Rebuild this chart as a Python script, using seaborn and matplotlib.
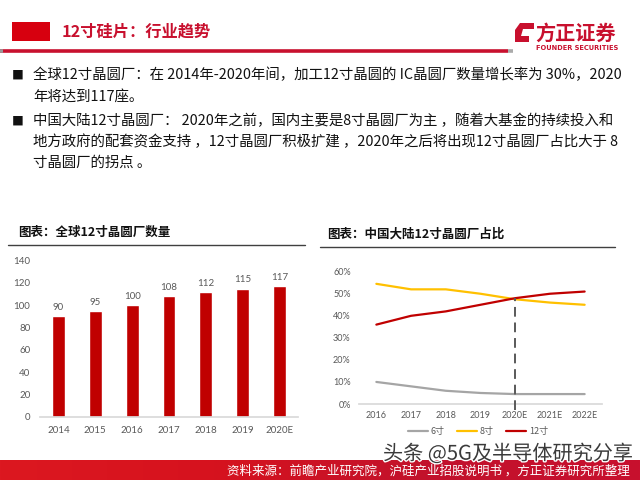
import numpy as np
import pandas as pd
import matplotlib
matplotlib.use("Agg")
import matplotlib.pyplot as plt
import seaborn as sns
from matplotlib.patches import Rectangle, Polygon
from matplotlib.lines import Line2D
from matplotlib.colors import LinearSegmentedColormap
import matplotlib.patheffects as pe

# ---------------- data ----------------
bar_years = ["2014", "2015", "2016", "2017", "2018", "2019", "2020E"]
fab_counts = [90, 95, 100, 108, 112, 115, 117]
bar_yticks = [0, 20, 40, 60, 80, 100, 120, 140]

line_years = ["2016", "2017", "2018", "2019", "2020E", "2021E", "2022E"]
share_6 = [0.10, 0.08, 0.06, 0.05, 0.045, 0.045, 0.045]
share_8 = [0.545, 0.52, 0.52, 0.50, 0.475, 0.46, 0.45]
share_12 = [0.36, 0.40, 0.42, 0.45, 0.48, 0.50, 0.51]
series_names = ["6寸", "8寸", "12寸"]
line_yticks = [0.0, 0.1, 0.2, 0.3, 0.4, 0.5, 0.6]
line_ytick_labels = ["0%", "10%", "20%", "30%", "40%", "50%", "60%"]
crossover_year = "2020E"

header_title = "12寸硅片：行业趋势"
bullet_lines = [
    "全球12寸晶圆厂：在 2014年-2020年间，加工12寸晶圆的 IC晶圆厂数量增长率为 30%，2020",
    "年将达到117座。",
    "中国大陆12寸晶圆厂： 2020年之前，国内主要是8寸晶圆厂为主 ，随着大基金的持续投入和",
    "地方政府的配套资金支持 ，12寸晶圆厂积极扩建 ，2020年之后将出现12寸晶圆厂占比大于 8",
    "寸晶圆厂的拐点 。",
]
bullet_starts = [True, False, True, False, False]
chart1_title = "图表：全球12寸晶圆厂数量"
chart2_title = "图表：中国大陆12寸晶圆厂占比"
source_text = "资料来源：前瞻产业研究院，沪硅产业招股说明书 ，方正证券研究所整理"
watermark = "头条 @5G及半导体研究分享"
logo_cn = "方正证券"
logo_en = "FOUNDER SECURITIES"

# ---------------- style ----------------
sns.set_theme(style="white")
plt.rcParams["font.family"] = ["Noto Sans CJK SC", "DejaVu Sans"]

RED = "#C00000"
TICK = "#595959"
W, H = 640, 480

fig = plt.figure(figsize=(6.4, 4.8), dpi=100)
fig.patch.set_facecolor("white")

def frac(x0, y0, x1, y1):
    return [x0 / W, 1 - y1 / H, (x1 - x0) / W, (y1 - y0) / H]

# decoration layer in pixel coordinates
deco = fig.add_axes([0, 0, 1, 1], zorder=0)
deco.set_xlim(0, W)
deco.set_ylim(H, 0)
deco.axis("off")

# header
deco.add_patch(Rectangle((12, 22), 38, 19, color="#D7000F", lw=0))
deco.text(62, 32, header_title, color="#C8102E", fontsize=11.7, weight="bold",
          va="center", ha="left")
deco.plot([0, 508], [51, 51], color="#C8102E", lw=2.6, solid_capstyle="butt")
deco.plot([0, 3], [51, 51], color="#999999", lw=2.6, solid_capstyle="butt")
deco.plot([508, 513], [51, 51], color="#AAAAAA", lw=2.6, solid_capstyle="butt")

# logo
deco.add_patch(Polygon([(520, 23), (534, 23), (534, 29), (523, 29), (521, 36),
                        (529, 36), (529, 42), (515, 42), (515, 30)],
                       closed=True, color="#C8102E", lw=0))
deco.text(535, 33, logo_cn, color="#C8102E", fontsize=14.5, weight="bold",
          va="center", ha="left")
deco.text(536, 48.5, logo_en, color="#C8102E", fontsize=4.8, weight="bold",
          va="center", ha="left", family=["DejaVu Sans"])

# bullets
bullet_y = [75, 97, 121, 142, 163]
for txt, yy, start in zip(bullet_lines, bullet_y, bullet_starts):
    if start:
        deco.text(18, yy, "■", fontsize=8.5, color="#111111", va="center", ha="center")
    deco.text(33, yy, txt, fontsize=10.4, color="#111111", va="center", ha="left")

# chart titles + rules
deco.text(18, 232, chart1_title, fontsize=9, weight="bold", color="#111111",
          va="center", ha="left")
deco.plot([8, 305], [245, 245], color="#404040", lw=1)
deco.text(327, 234, chart2_title, fontsize=9, weight="bold", color="#111111",
          va="center", ha="left")
deco.plot([320, 615], [247, 247], color="#404040", lw=1)

# footer gradient band
cmap = LinearSegmentedColormap.from_list(
    "band", ["#DC1820", "#D6121E", "#C2122C", "#C8102E"])
grad = np.linspace(0, 1, 256).reshape(1, -1)
deco.imshow(grad, extent=[0, W, 480, 460], aspect="auto", cmap=cmap, zorder=1)
deco.set_xlim(0, W)
deco.set_ylim(H, 0)
deco.text(630, 471, source_text, fontsize=9, color="white", va="center",
          ha="right", zorder=3)
deco.text(383, 454, watermark, fontsize=14.5, color="#3A3A3A", va="center",
          ha="left", zorder=4,
          path_effects=[pe.withStroke(linewidth=2, foreground="white")])

# ---------------- bar chart ----------------
ax1 = fig.add_axes(frac(40, 260.7, 298, 416.7), zorder=2)
ax1.patch.set_alpha(0)
bar_df = pd.DataFrame({"year": bar_years, "count": fab_counts})
sns.barplot(data=bar_df, x="year", y="count", color=RED, width=0.35,
            saturation=1, ax=ax1)
ax1.bar_label(ax1.containers[0], fontsize=7, color=TICK, padding=3,
              family=["Lato", "DejaVu Sans"])
ax1.set_xlim(-0.5, len(bar_years) - 0.5)
ax1.set_ylim(0, 140)
ax1.set_yticks(bar_yticks)
ax1.set_xlabel("")
ax1.set_ylabel("")
for s in ["top", "right", "left"]:
    ax1.spines[s].set_visible(False)
ax1.spines["bottom"].set_color("#D9D9D9")
ax1.tick_params(axis="both", length=0, labelsize=7, colors=TICK)
ax1.tick_params(axis="y", pad=7)
ax1.tick_params(axis="x", pad=7)
for lab in ax1.get_xticklabels() + ax1.get_yticklabels():
    lab.set_family(["Lato", "DejaVu Sans"])

# ---------------- line chart ----------------
ax2 = fig.add_axes(frac(359, 271.7, 602, 404), zorder=2)
ax2.patch.set_alpha(0)
pos = list(range(len(line_years)))
line_df = pd.DataFrame({
    "pos": pos * 3,
    "share": share_6 + share_8 + share_12,
    "size": [series_names[0]] * 7 + [series_names[1]] * 7 + [series_names[2]] * 7,
})
palette = {series_names[0]: "#A5A5A5", series_names[1]: "#FFC000",
           series_names[2]: RED}
sns.lineplot(data=line_df, x="pos", y="share", hue="size", palette=palette,
             linewidth=1.6, sort=False, legend=False, ax=ax2)
ci = line_years.index(crossover_year)
ax2.plot([ci, ci], [-0.027, share_12[ci]], color="#595959", lw=1.4,
         linestyle=(0, (5, 3)), clip_on=False, zorder=5)
ax2.set_xlim(-0.5, len(line_years) - 0.5)
ax2.set_ylim(0, 0.6)
ax2.set_xticks(pos)
ax2.set_xticklabels(line_years)
ax2.set_yticks(line_yticks)
ax2.set_yticklabels(line_ytick_labels)
ax2.set_xlabel("")
ax2.set_ylabel("")
for s in ["top", "right", "left"]:
    ax2.spines[s].set_visible(False)
ax2.spines["bottom"].set_color("#D9D9D9")
ax2.tick_params(axis="both", length=0, labelsize=6.5, colors=TICK)
ax2.tick_params(axis="y", pad=6)
ax2.tick_params(axis="x", pad=5)
for lab in ax2.get_xticklabels() + ax2.get_yticklabels():
    lab.set_family(["Lato", "DejaVu Sans"])

handles = [Line2D([0], [0], color=palette[n], lw=1.6) for n in series_names]
ax2.legend(handles, series_names, loc="center", ncol=3, frameon=False,
           bbox_to_anchor=(0.49, -0.21), fontsize=6.5, handlelength=2.2,
           columnspacing=1.4, handletextpad=0.3, labelcolor=TICK)

fig.savefig("out.png", dpi=100)
